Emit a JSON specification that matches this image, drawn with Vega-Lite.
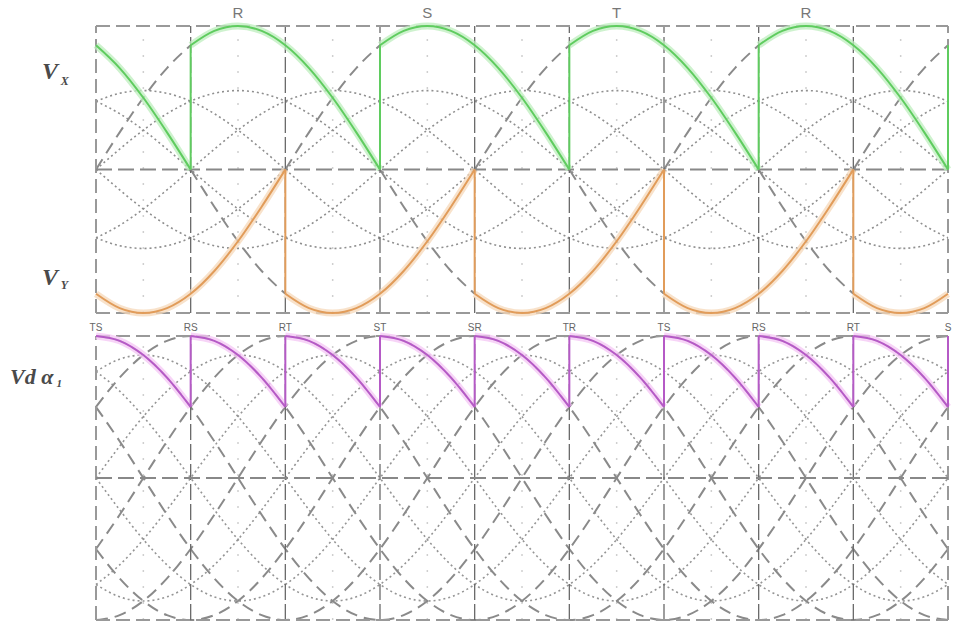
{
"$schema":"https://vega.github.io/schema/vega-lite/v6.json",
"width":852,"height":594,
"padding":{"left":10,"top":5,"right":0,"bottom":0},
"background":"white",
"config":{"view":{"stroke":null}},
"datasets":{
"fam":[
{"x":0,"b0":1,"b1":0.5,"b2":-0.5,"b3":-1,"b4":-0.5,"b5":0.5,"d0":0.75,"d1":0,"d2":-0.75,"d3":-0.75,"d4":0,"d5":0.75,"t0":0.476,"t1":0,"t2":-0.476,"t3":-0.476,"t4":0,"t5":0.476},
{"x":15,"b0":0.966,"b1":0.707,"b2":-0.259,"b3":-0.966,"b4":-0.707,"b5":0.259,"d0":0.837,"d1":0.224,"d2":-0.612,"d3":-0.837,"d4":-0.224,"d5":0.612,"t0":0.531,"t1":0.142,"t2":-0.389,"t3":-0.531,"t4":-0.142,"t5":0.389},
{"x":30,"b0":0.866,"b1":0.866,"b2":0,"b3":-0.866,"b4":-0.866,"b5":0,"d0":0.866,"d1":0.433,"d2":-0.433,"d3":-0.866,"d4":-0.433,"d5":0.433,"t0":0.55,"t1":0.275,"t2":-0.275,"t3":-0.55,"t4":-0.275,"t5":0.275},
{"x":45,"b0":0.707,"b1":0.966,"b2":0.259,"b3":-0.707,"b4":-0.966,"b5":-0.259,"d0":0.837,"d1":0.612,"d2":-0.224,"d3":-0.837,"d4":-0.612,"d5":0.224,"t0":0.531,"t1":0.389,"t2":-0.142,"t3":-0.531,"t4":-0.389,"t5":0.142},
{"x":60,"b0":0.5,"b1":1,"b2":0.5,"b3":-0.5,"b4":-1,"b5":-0.5,"d0":0.75,"d1":0.75,"d2":0,"d3":-0.75,"d4":-0.75,"d5":0,"t0":0.476,"t1":0.476,"t2":0,"t3":-0.476,"t4":-0.476,"t5":0},
{"x":75,"b0":0.259,"b1":0.966,"b2":0.707,"b3":-0.259,"b4":-0.966,"b5":-0.707,"d0":0.612,"d1":0.837,"d2":0.224,"d3":-0.612,"d4":-0.837,"d5":-0.224,"t0":0.389,"t1":0.531,"t2":0.142,"t3":-0.389,"t4":-0.531,"t5":-0.142},
{"x":90,"b0":0,"b1":0.866,"b2":0.866,"b3":0,"b4":-0.866,"b5":-0.866,"d0":0.433,"d1":0.866,"d2":0.433,"d3":-0.433,"d4":-0.866,"d5":-0.433,"t0":0.275,"t1":0.55,"t2":0.275,"t3":-0.275,"t4":-0.55,"t5":-0.275},
{"x":105,"b0":-0.259,"b1":0.707,"b2":0.966,"b3":0.259,"b4":-0.707,"b5":-0.966,"d0":0.224,"d1":0.837,"d2":0.612,"d3":-0.224,"d4":-0.837,"d5":-0.612,"t0":0.142,"t1":0.531,"t2":0.389,"t3":-0.142,"t4":-0.531,"t5":-0.389},
{"x":120,"b0":-0.5,"b1":0.5,"b2":1,"b3":0.5,"b4":-0.5,"b5":-1,"d0":0,"d1":0.75,"d2":0.75,"d3":0,"d4":-0.75,"d5":-0.75,"t0":0,"t1":0.476,"t2":0.476,"t3":0,"t4":-0.476,"t5":-0.476},
{"x":135,"b0":-0.707,"b1":0.259,"b2":0.966,"b3":0.707,"b4":-0.259,"b5":-0.966,"d0":-0.224,"d1":0.612,"d2":0.837,"d3":0.224,"d4":-0.612,"d5":-0.837,"t0":-0.142,"t1":0.389,"t2":0.531,"t3":0.142,"t4":-0.389,"t5":-0.531},
{"x":150,"b0":-0.866,"b1":0,"b2":0.866,"b3":0.866,"b4":0,"b5":-0.866,"d0":-0.433,"d1":0.433,"d2":0.866,"d3":0.433,"d4":-0.433,"d5":-0.866,"t0":-0.275,"t1":0.275,"t2":0.55,"t3":0.275,"t4":-0.275,"t5":-0.55},
{"x":165,"b0":-0.966,"b1":-0.259,"b2":0.707,"b3":0.966,"b4":0.259,"b5":-0.707,"d0":-0.612,"d1":0.224,"d2":0.837,"d3":0.612,"d4":-0.224,"d5":-0.837,"t0":-0.389,"t1":0.142,"t2":0.531,"t3":0.389,"t4":-0.142,"t5":-0.531},
{"x":180,"b0":-1,"b1":-0.5,"b2":0.5,"b3":1,"b4":0.5,"b5":-0.5,"d0":-0.75,"d1":0,"d2":0.75,"d3":0.75,"d4":0,"d5":-0.75,"t0":-0.476,"t1":0,"t2":0.476,"t3":0.476,"t4":0,"t5":-0.476},
{"x":195,"b0":-0.966,"b1":-0.707,"b2":0.259,"b3":0.966,"b4":0.707,"b5":-0.259,"d0":-0.837,"d1":-0.224,"d2":0.612,"d3":0.837,"d4":0.224,"d5":-0.612,"t0":-0.531,"t1":-0.142,"t2":0.389,"t3":0.531,"t4":0.142,"t5":-0.389},
{"x":210,"b0":-0.866,"b1":-0.866,"b2":0,"b3":0.866,"b4":0.866,"b5":0,"d0":-0.866,"d1":-0.433,"d2":0.433,"d3":0.866,"d4":0.433,"d5":-0.433,"t0":-0.55,"t1":-0.275,"t2":0.275,"t3":0.55,"t4":0.275,"t5":-0.275},
{"x":225,"b0":-0.707,"b1":-0.966,"b2":-0.259,"b3":0.707,"b4":0.966,"b5":0.259,"d0":-0.837,"d1":-0.612,"d2":0.224,"d3":0.837,"d4":0.612,"d5":-0.224,"t0":-0.531,"t1":-0.389,"t2":0.142,"t3":0.531,"t4":0.389,"t5":-0.142},
{"x":240,"b0":-0.5,"b1":-1,"b2":-0.5,"b3":0.5,"b4":1,"b5":0.5,"d0":-0.75,"d1":-0.75,"d2":0,"d3":0.75,"d4":0.75,"d5":0,"t0":-0.476,"t1":-0.476,"t2":0,"t3":0.476,"t4":0.476,"t5":0},
{"x":255,"b0":-0.259,"b1":-0.966,"b2":-0.707,"b3":0.259,"b4":0.966,"b5":0.707,"d0":-0.612,"d1":-0.837,"d2":-0.224,"d3":0.612,"d4":0.837,"d5":0.224,"t0":-0.389,"t1":-0.531,"t2":-0.142,"t3":0.389,"t4":0.531,"t5":0.142},
{"x":270,"b0":0,"b1":-0.866,"b2":-0.866,"b3":0,"b4":0.866,"b5":0.866,"d0":-0.433,"d1":-0.866,"d2":-0.433,"d3":0.433,"d4":0.866,"d5":0.433,"t0":-0.275,"t1":-0.55,"t2":-0.275,"t3":0.275,"t4":0.55,"t5":0.275},
{"x":285,"b0":0.259,"b1":-0.707,"b2":-0.966,"b3":-0.259,"b4":0.707,"b5":0.966,"d0":-0.224,"d1":-0.837,"d2":-0.612,"d3":0.224,"d4":0.837,"d5":0.612,"t0":-0.142,"t1":-0.531,"t2":-0.389,"t3":0.142,"t4":0.531,"t5":0.389},
{"x":300,"b0":0.5,"b1":-0.5,"b2":-1,"b3":-0.5,"b4":0.5,"b5":1,"d0":0,"d1":-0.75,"d2":-0.75,"d3":0,"d4":0.75,"d5":0.75,"t0":0,"t1":-0.476,"t2":-0.476,"t3":0,"t4":0.476,"t5":0.476},
{"x":315,"b0":0.707,"b1":-0.259,"b2":-0.966,"b3":-0.707,"b4":0.259,"b5":0.966,"d0":0.224,"d1":-0.612,"d2":-0.837,"d3":-0.224,"d4":0.612,"d5":0.837,"t0":0.142,"t1":-0.389,"t2":-0.531,"t3":-0.142,"t4":0.389,"t5":0.531},
{"x":330,"b0":0.866,"b1":0,"b2":-0.866,"b3":-0.866,"b4":0,"b5":0.866,"d0":0.433,"d1":-0.433,"d2":-0.866,"d3":-0.433,"d4":0.433,"d5":0.866,"t0":0.275,"t1":-0.275,"t2":-0.55,"t3":-0.275,"t4":0.275,"t5":0.55},
{"x":345,"b0":0.966,"b1":0.259,"b2":-0.707,"b3":-0.966,"b4":-0.259,"b5":0.707,"d0":0.612,"d1":-0.224,"d2":-0.837,"d3":-0.612,"d4":0.224,"d5":0.837,"t0":0.389,"t1":-0.142,"t2":-0.531,"t3":-0.389,"t4":0.142,"t5":0.531},
{"x":360,"b0":1,"b1":0.5,"b2":-0.5,"b3":-1,"b4":-0.5,"b5":0.5,"d0":0.75,"d1":0,"d2":-0.75,"d3":-0.75,"d4":0,"d5":0.75,"t0":0.476,"t1":0,"t2":-0.476,"t3":-0.476,"t4":0,"t5":0.476},
{"x":375,"b0":0.966,"b1":0.707,"b2":-0.259,"b3":-0.966,"b4":-0.707,"b5":0.259,"d0":0.837,"d1":0.224,"d2":-0.612,"d3":-0.837,"d4":-0.224,"d5":0.612,"t0":0.531,"t1":0.142,"t2":-0.389,"t3":-0.531,"t4":-0.142,"t5":0.389},
{"x":390,"b0":0.866,"b1":0.866,"b2":0,"b3":-0.866,"b4":-0.866,"b5":0,"d0":0.866,"d1":0.433,"d2":-0.433,"d3":-0.866,"d4":-0.433,"d5":0.433,"t0":0.55,"t1":0.275,"t2":-0.275,"t3":-0.55,"t4":-0.275,"t5":0.275},
{"x":405,"b0":0.707,"b1":0.966,"b2":0.259,"b3":-0.707,"b4":-0.966,"b5":-0.259,"d0":0.837,"d1":0.612,"d2":-0.224,"d3":-0.837,"d4":-0.612,"d5":0.224,"t0":0.531,"t1":0.389,"t2":-0.142,"t3":-0.531,"t4":-0.389,"t5":0.142},
{"x":420,"b0":0.5,"b1":1,"b2":0.5,"b3":-0.5,"b4":-1,"b5":-0.5,"d0":0.75,"d1":0.75,"d2":0,"d3":-0.75,"d4":-0.75,"d5":0,"t0":0.476,"t1":0.476,"t2":0,"t3":-0.476,"t4":-0.476,"t5":0},
{"x":435,"b0":0.259,"b1":0.966,"b2":0.707,"b3":-0.259,"b4":-0.966,"b5":-0.707,"d0":0.612,"d1":0.837,"d2":0.224,"d3":-0.612,"d4":-0.837,"d5":-0.224,"t0":0.389,"t1":0.531,"t2":0.142,"t3":-0.389,"t4":-0.531,"t5":-0.142},
{"x":450,"b0":0,"b1":0.866,"b2":0.866,"b3":0,"b4":-0.866,"b5":-0.866,"d0":0.433,"d1":0.866,"d2":0.433,"d3":-0.433,"d4":-0.866,"d5":-0.433,"t0":0.275,"t1":0.55,"t2":0.275,"t3":-0.275,"t4":-0.55,"t5":-0.275},
{"x":465,"b0":-0.259,"b1":0.707,"b2":0.966,"b3":0.259,"b4":-0.707,"b5":-0.966,"d0":0.224,"d1":0.837,"d2":0.612,"d3":-0.224,"d4":-0.837,"d5":-0.612,"t0":0.142,"t1":0.531,"t2":0.389,"t3":-0.142,"t4":-0.531,"t5":-0.389},
{"x":480,"b0":-0.5,"b1":0.5,"b2":1,"b3":0.5,"b4":-0.5,"b5":-1,"d0":0,"d1":0.75,"d2":0.75,"d3":0,"d4":-0.75,"d5":-0.75,"t0":0,"t1":0.476,"t2":0.476,"t3":0,"t4":-0.476,"t5":-0.476},
{"x":495,"b0":-0.707,"b1":0.259,"b2":0.966,"b3":0.707,"b4":-0.259,"b5":-0.966,"d0":-0.224,"d1":0.612,"d2":0.837,"d3":0.224,"d4":-0.612,"d5":-0.837,"t0":-0.142,"t1":0.389,"t2":0.531,"t3":0.142,"t4":-0.389,"t5":-0.531},
{"x":510,"b0":-0.866,"b1":0,"b2":0.866,"b3":0.866,"b4":0,"b5":-0.866,"d0":-0.433,"d1":0.433,"d2":0.866,"d3":0.433,"d4":-0.433,"d5":-0.866,"t0":-0.275,"t1":0.275,"t2":0.55,"t3":0.275,"t4":-0.275,"t5":-0.55},
{"x":525,"b0":-0.966,"b1":-0.259,"b2":0.707,"b3":0.966,"b4":0.259,"b5":-0.707,"d0":-0.612,"d1":0.224,"d2":0.837,"d3":0.612,"d4":-0.224,"d5":-0.837,"t0":-0.389,"t1":0.142,"t2":0.531,"t3":0.389,"t4":-0.142,"t5":-0.531},
{"x":540,"b0":-1,"b1":-0.5,"b2":0.5,"b3":1,"b4":0.5,"b5":-0.5,"d0":-0.75,"d1":0,"d2":0.75,"d3":0.75,"d4":0,"d5":-0.75,"t0":-0.476,"t1":0,"t2":0.476,"t3":0.476,"t4":0,"t5":-0.476}
],
"gx":[
{"s":0,"x":0,"y":0.866},{"s":0,"x":15,"y":0.707},{"s":0,"x":30,"y":0.5},{"s":0,"x":45,"y":0.259},{"s":0,"x":60,"y":0},
{"s":1,"x":60,"y":0.866},{"s":1,"x":75,"y":0.966},{"s":1,"x":90,"y":1},{"s":1,"x":105,"y":0.966},{"s":1,"x":120,"y":0.866},{"s":1,"x":135,"y":0.707},{"s":1,"x":150,"y":0.5},{"s":1,"x":165,"y":0.259},{"s":1,"x":180,"y":0},
{"s":2,"x":180,"y":0.866},{"s":2,"x":195,"y":0.966},{"s":2,"x":210,"y":1},{"s":2,"x":225,"y":0.966},{"s":2,"x":240,"y":0.866},{"s":2,"x":255,"y":0.707},{"s":2,"x":270,"y":0.5},{"s":2,"x":285,"y":0.259},{"s":2,"x":300,"y":0},
{"s":3,"x":300,"y":0.866},{"s":3,"x":315,"y":0.966},{"s":3,"x":330,"y":1},{"s":3,"x":345,"y":0.966},{"s":3,"x":360,"y":0.866},{"s":3,"x":375,"y":0.707},{"s":3,"x":390,"y":0.5},{"s":3,"x":405,"y":0.259},{"s":3,"x":420,"y":0},
{"s":4,"x":420,"y":0.866},{"s":4,"x":435,"y":0.966},{"s":4,"x":450,"y":1},{"s":4,"x":465,"y":0.966},{"s":4,"x":480,"y":0.866},{"s":4,"x":495,"y":0.707},{"s":4,"x":510,"y":0.5},{"s":4,"x":525,"y":0.259},{"s":4,"x":540,"y":0}
],
"oy":[
{"s":0,"x":0,"y":-0.866},{"s":0,"x":15,"y":-0.966},{"s":0,"x":30,"y":-1},{"s":0,"x":45,"y":-0.966},{"s":0,"x":60,"y":-0.866},{"s":0,"x":75,"y":-0.707},{"s":0,"x":90,"y":-0.5},{"s":0,"x":105,"y":-0.259},{"s":0,"x":120,"y":0},
{"s":1,"x":120,"y":-0.866},{"s":1,"x":135,"y":-0.966},{"s":1,"x":150,"y":-1},{"s":1,"x":165,"y":-0.966},{"s":1,"x":180,"y":-0.866},{"s":1,"x":195,"y":-0.707},{"s":1,"x":210,"y":-0.5},{"s":1,"x":225,"y":-0.259},{"s":1,"x":240,"y":0},
{"s":2,"x":240,"y":-0.866},{"s":2,"x":255,"y":-0.966},{"s":2,"x":270,"y":-1},{"s":2,"x":285,"y":-0.966},{"s":2,"x":300,"y":-0.866},{"s":2,"x":315,"y":-0.707},{"s":2,"x":330,"y":-0.5},{"s":2,"x":345,"y":-0.259},{"s":2,"x":360,"y":0},
{"s":3,"x":360,"y":-0.866},{"s":3,"x":375,"y":-0.966},{"s":3,"x":390,"y":-1},{"s":3,"x":405,"y":-0.966},{"s":3,"x":420,"y":-0.866},{"s":3,"x":435,"y":-0.707},{"s":3,"x":450,"y":-0.5},{"s":3,"x":465,"y":-0.259},{"s":3,"x":480,"y":0},
{"s":4,"x":480,"y":-0.866},{"s":4,"x":495,"y":-0.966},{"s":4,"x":510,"y":-1},{"s":4,"x":525,"y":-0.966},{"s":4,"x":540,"y":-0.866}
],
"vd":[
{"s":0,"x":0,"y":1},{"s":0,"x":15,"y":0.966},{"s":0,"x":30,"y":0.866},{"s":0,"x":45,"y":0.707},{"s":0,"x":60,"y":0.5},
{"s":1,"x":60,"y":1},{"s":1,"x":75,"y":0.966},{"s":1,"x":90,"y":0.866},{"s":1,"x":105,"y":0.707},{"s":1,"x":120,"y":0.5},
{"s":2,"x":120,"y":1},{"s":2,"x":135,"y":0.966},{"s":2,"x":150,"y":0.866},{"s":2,"x":165,"y":0.707},{"s":2,"x":180,"y":0.5},
{"s":3,"x":180,"y":1},{"s":3,"x":195,"y":0.966},{"s":3,"x":210,"y":0.866},{"s":3,"x":225,"y":0.707},{"s":3,"x":240,"y":0.5},
{"s":4,"x":240,"y":1},{"s":4,"x":255,"y":0.966},{"s":4,"x":270,"y":0.866},{"s":4,"x":285,"y":0.707},{"s":4,"x":300,"y":0.5},
{"s":5,"x":300,"y":1},{"s":5,"x":315,"y":0.966},{"s":5,"x":330,"y":0.866},{"s":5,"x":345,"y":0.707},{"s":5,"x":360,"y":0.5},
{"s":6,"x":360,"y":1},{"s":6,"x":375,"y":0.966},{"s":6,"x":390,"y":0.866},{"s":6,"x":405,"y":0.707},{"s":6,"x":420,"y":0.5},
{"s":7,"x":420,"y":1},{"s":7,"x":435,"y":0.966},{"s":7,"x":450,"y":0.866},{"s":7,"x":465,"y":0.707},{"s":7,"x":480,"y":0.5},
{"s":8,"x":480,"y":1},{"s":8,"x":495,"y":0.966},{"s":8,"x":510,"y":0.866},{"s":8,"x":525,"y":0.707},{"s":8,"x":540,"y":0.5}
],
"seg":[
{"s":"r0","x":0,"y":0},{"s":"r0","x":15,"y":0.259},{"s":"r0","x":30,"y":0.5},{"s":"r0","x":45,"y":0.707},{"s":"r0","x":60,"y":0.866},
{"s":"r1","x":120,"y":0},{"s":"r1","x":135,"y":0.259},{"s":"r1","x":150,"y":0.5},{"s":"r1","x":165,"y":0.707},{"s":"r1","x":180,"y":0.866},
{"s":"r2","x":240,"y":0},{"s":"r2","x":255,"y":0.259},{"s":"r2","x":270,"y":0.5},{"s":"r2","x":285,"y":0.707},{"s":"r2","x":300,"y":0.866},
{"s":"r3","x":360,"y":0},{"s":"r3","x":375,"y":0.259},{"s":"r3","x":390,"y":0.5},{"s":"r3","x":405,"y":0.707},{"s":"r3","x":420,"y":0.866},
{"s":"r4","x":480,"y":0},{"s":"r4","x":495,"y":0.259},{"s":"r4","x":510,"y":0.5},{"s":"r4","x":525,"y":0.707},{"s":"r4","x":540,"y":0.866},
{"s":"f0","x":60,"y":0},{"s":"f0","x":75,"y":-0.259},{"s":"f0","x":90,"y":-0.5},{"s":"f0","x":105,"y":-0.707},{"s":"f0","x":120,"y":-0.866},
{"s":"f1","x":180,"y":0},{"s":"f1","x":195,"y":-0.259},{"s":"f1","x":210,"y":-0.5},{"s":"f1","x":225,"y":-0.707},{"s":"f1","x":240,"y":-0.866},
{"s":"f2","x":300,"y":0},{"s":"f2","x":315,"y":-0.259},{"s":"f2","x":330,"y":-0.5},{"s":"f2","x":345,"y":-0.707},{"s":"f2","x":360,"y":-0.866},
{"s":"f3","x":420,"y":0},{"s":"f3","x":435,"y":-0.259},{"s":"f3","x":450,"y":-0.5},{"s":"f3","x":465,"y":-0.707},{"s":"f3","x":480,"y":-0.866}
],
"jx":[{"x":60,"y":0,"y2":0.866},{"x":180,"y":0,"y2":0.866},{"x":300,"y":0,"y2":0.866},{"x":420,"y":0,"y2":0.866},{"x":540,"y":0,"y2":0.866}],
"jy":[{"x":120,"y":0,"y2":-0.866},{"x":240,"y":0,"y2":-0.866},{"x":360,"y":0,"y2":-0.866},{"x":480,"y":0,"y2":-0.866}],
"jd":[{"x":60,"y":0.5,"y2":1},{"x":120,"y":0.5,"y2":1},{"x":180,"y":0.5,"y2":1},{"x":240,"y":0.5,"y2":1},{"x":300,"y":0.5,"y2":1},{"x":360,"y":0.5,"y2":1},{"x":420,"y":0.5,"y2":1},{"x":480,"y":0.5,"y2":1},{"x":540,"y":0.5,"y2":1}],
"mid":[{"x":30},{"x":90},{"x":150},{"x":210},{"x":270},{"x":330},{"x":390},{"x":450},{"x":510}],
"inner":[{"x":60},{"x":120},{"x":180},{"x":240},{"x":300},{"x":360},{"x":420},{"x":480}],
"edge":[{"x":0},{"x":540}],
"hb":[{"y":1},{"y":-1}],
"hc":[{"y":0}]
},
"layer":[
{
"layer":[
{"data":{"name":"mid"},"mark":{"type":"rule","color":"#cfcfcf","strokeWidth":1.5,"strokeDash":[2,14]},
 "encoding":{"x":{"field":"x","type":"quantitative","scale":{"domain":[0,540],"nice":false,"zero":false},"axis":null},"y":{"datum":-1,"type":"quantitative","scale":{"domain":[-3.139,1],"nice":false,"zero":false},"axis":null},"y2":{"datum":1}}},
{"data":{"name":"fam"},"transform":[{"fold":["t0","t1","t2","t3","t4","t5"],"as":["k","y"]}],
 "mark":{"type":"line","interpolate":"monotone","color":"#8f8f8f","strokeWidth":1.6,"strokeDash":[2,3]},
 "encoding":{"x":{"field":"x","type":"quantitative","scale":{"domain":[0,540],"nice":false,"zero":false},"axis":null},"y":{"field":"y","type":"quantitative","scale":{"domain":[-3.139,1],"nice":false,"zero":false},"axis":null},"detail":{"field":"k"}}},
{"data":{"name":"seg"},"mark":{"type":"line","interpolate":"monotone","color":"#8a8a8a","strokeWidth":2,"strokeDash":[12,7]},
 "encoding":{"x":{"field":"x","type":"quantitative","scale":{"domain":[0,540],"nice":false,"zero":false},"axis":null},"y":{"field":"y","type":"quantitative","scale":{"domain":[-3.139,1],"nice":false,"zero":false},"axis":null},"detail":{"field":"s"}}},
{"data":{"name":"inner"},"mark":{"type":"rule","color":"#6a6a6a","strokeWidth":1.3,"strokeDash":[16,4]},
 "encoding":{"x":{"field":"x","type":"quantitative","scale":{"domain":[0,540],"nice":false,"zero":false},"axis":null},"y":{"datum":-1,"type":"quantitative","scale":{"domain":[-3.139,1],"nice":false,"zero":false},"axis":null},"y2":{"datum":1}}},
{"data":{"name":"edge"},"mark":{"type":"rule","color":"#999999","strokeWidth":2,"strokeDash":[14,6]},
 "encoding":{"x":{"field":"x","type":"quantitative","scale":{"domain":[0,540],"nice":false,"zero":false},"axis":null},"y":{"datum":-1,"type":"quantitative","scale":{"domain":[-3.139,1],"nice":false,"zero":false},"axis":null},"y2":{"datum":1}}},
{"data":{"name":"hb"},"mark":{"type":"rule","color":"#999999","strokeWidth":2,"strokeDash":[14,6]},
 "encoding":{"y":{"field":"y","type":"quantitative","scale":{"domain":[-3.139,1],"nice":false,"zero":false},"axis":null},"x":{"datum":0,"type":"quantitative","axis":null},"x2":{"datum":540}}},
{"data":{"name":"hc"},"mark":{"type":"rule","color":"#888888","strokeWidth":2,"strokeDash":[16,6]},
 "encoding":{"y":{"field":"y","type":"quantitative","scale":{"domain":[-3.139,1],"nice":false,"zero":false},"axis":null},"x":{"datum":0,"type":"quantitative","axis":null},"x2":{"datum":540}}},
{"data":{"name":"gx"},"mark":{"type":"line","interpolate":"monotone","color":"#bdeebd","strokeWidth":7,"opacity":0.75},
 "encoding":{"x":{"field":"x","type":"quantitative","scale":{"domain":[0,540],"nice":false,"zero":false},"axis":null},"y":{"field":"y","type":"quantitative","scale":{"domain":[-3.139,1],"nice":false,"zero":false},"axis":null},"detail":{"field":"s"}}},
{"data":{"name":"gx"},"mark":{"type":"line","interpolate":"monotone","color":"#5fcc5f","strokeWidth":2},
 "encoding":{"x":{"field":"x","type":"quantitative","scale":{"domain":[0,540],"nice":false,"zero":false},"axis":null},"y":{"field":"y","type":"quantitative","scale":{"domain":[-3.139,1],"nice":false,"zero":false},"axis":null},"detail":{"field":"s"}}},
{"data":{"name":"jx"},"mark":{"type":"rule","color":"#5fcc5f","strokeWidth":2},
 "encoding":{"x":{"field":"x","type":"quantitative","scale":{"domain":[0,540],"nice":false,"zero":false},"axis":null},"y":{"field":"y","type":"quantitative","scale":{"domain":[-3.139,1],"nice":false,"zero":false},"axis":null},"y2":{"field":"y2"}}},
{"data":{"name":"oy"},"mark":{"type":"line","interpolate":"monotone","color":"#f6d8ba","strokeWidth":7,"opacity":0.75},
 "encoding":{"x":{"field":"x","type":"quantitative","scale":{"domain":[0,540],"nice":false,"zero":false},"axis":null},"y":{"field":"y","type":"quantitative","scale":{"domain":[-3.139,1],"nice":false,"zero":false},"axis":null},"detail":{"field":"s"}}},
{"data":{"name":"oy"},"mark":{"type":"line","interpolate":"monotone","color":"#e19c5a","strokeWidth":2},
 "encoding":{"x":{"field":"x","type":"quantitative","scale":{"domain":[0,540],"nice":false,"zero":false},"axis":null},"y":{"field":"y","type":"quantitative","scale":{"domain":[-3.139,1],"nice":false,"zero":false},"axis":null},"detail":{"field":"s"}}},
{"data":{"name":"jy"},"mark":{"type":"rule","color":"#e19c5a","strokeWidth":2},
 "encoding":{"x":{"field":"x","type":"quantitative","scale":{"domain":[0,540],"nice":false,"zero":false},"axis":null},"y":{"field":"y","type":"quantitative","scale":{"domain":[-3.139,1],"nice":false,"zero":false},"axis":null},"y2":{"field":"y2"}}},
{"data":{"values":[{"x":90,"t":"R"},{"x":210,"t":"S"},{"x":330,"t":"T"},{"x":450,"t":"R"}]},
 "mark":{"type":"text","font":"Liberation Sans","fontSize":15,"color":"#777777","baseline":"middle","align":"center"},
 "encoding":{"x":{"field":"x","type":"quantitative","scale":{"domain":[0,540],"nice":false,"zero":false},"axis":null},"y":{"datum":1.0906,"type":"quantitative","scale":{"domain":[-3.139,1],"nice":false,"zero":false},"axis":null},"text":{"field":"t"}}},
{"data":{"values":[{"x":-34.2,"y":0.676,"t":"V"},{"x":-34.2,"y":-0.756,"t":"V"}]},
 "mark":{"type":"text","font":"Liberation Serif","fontStyle":"italic","fontWeight":"bold","fontSize":24,"color":"#4a4a4a","baseline":"middle","align":"left"},
 "encoding":{"x":{"field":"x","type":"quantitative","scale":{"domain":[0,540],"nice":false,"zero":false},"axis":null},"y":{"field":"y","type":"quantitative","scale":{"domain":[-3.139,1],"nice":false,"zero":false},"axis":null},"text":{"field":"t"}}},
{"data":{"values":[{"x":-22.3,"y":0.62,"t":"X"},{"x":-22.3,"y":-0.805,"t":"Y"}]},
 "mark":{"type":"text","font":"Liberation Serif","fontStyle":"italic","fontWeight":"bold","fontSize":12,"color":"#4a4a4a","baseline":"middle","align":"left"},
 "encoding":{"x":{"field":"x","type":"quantitative","scale":{"domain":[0,540],"nice":false,"zero":false},"axis":null},"y":{"field":"y","type":"quantitative","scale":{"domain":[-3.139,1],"nice":false,"zero":false},"axis":null},"text":{"field":"t"}}}
]
},
{
"layer":[
{"data":{"name":"mid"},"mark":{"type":"rule","color":"#cfcfcf","strokeWidth":1.5,"strokeDash":[2,14]},
 "encoding":{"x":{"field":"x","type":"quantitative","scale":{"domain":[0,540],"nice":false,"zero":false},"axis":null},"y":{"datum":-1,"type":"quantitative","scale":{"domain":[-1,3.183],"nice":false,"zero":false},"axis":null},"y2":{"datum":1}}},
{"data":{"name":"fam"},"transform":[{"fold":["d0","d1","d2","d3","d4","d5"],"as":["k","y"]}],
 "mark":{"type":"line","interpolate":"monotone","color":"#959595","strokeWidth":1.6,"strokeDash":[2,3]},
 "encoding":{"x":{"field":"x","type":"quantitative","scale":{"domain":[0,540],"nice":false,"zero":false},"axis":null},"y":{"field":"y","type":"quantitative","scale":{"domain":[-1,3.183],"nice":false,"zero":false},"axis":null},"detail":{"field":"k"}}},
{"data":{"name":"fam"},"transform":[{"fold":["b0","b1","b2","b3","b4","b5"],"as":["k","y"]}],
 "mark":{"type":"line","interpolate":"monotone","color":"#8a8a8a","strokeWidth":2,"strokeDash":[12,7]},
 "encoding":{"x":{"field":"x","type":"quantitative","scale":{"domain":[0,540],"nice":false,"zero":false},"axis":null},"y":{"field":"y","type":"quantitative","scale":{"domain":[-1,3.183],"nice":false,"zero":false},"axis":null},"detail":{"field":"k"}}},
{"data":{"name":"inner"},"mark":{"type":"rule","color":"#6a6a6a","strokeWidth":1.3,"strokeDash":[16,4]},
 "encoding":{"x":{"field":"x","type":"quantitative","scale":{"domain":[0,540],"nice":false,"zero":false},"axis":null},"y":{"datum":-1,"type":"quantitative","scale":{"domain":[-1,3.183],"nice":false,"zero":false},"axis":null},"y2":{"datum":1}}},
{"data":{"name":"edge"},"mark":{"type":"rule","color":"#999999","strokeWidth":2,"strokeDash":[14,6]},
 "encoding":{"x":{"field":"x","type":"quantitative","scale":{"domain":[0,540],"nice":false,"zero":false},"axis":null},"y":{"datum":-1,"type":"quantitative","scale":{"domain":[-1,3.183],"nice":false,"zero":false},"axis":null},"y2":{"datum":1}}},
{"data":{"name":"hb"},"mark":{"type":"rule","color":"#999999","strokeWidth":2,"strokeDash":[14,6]},
 "encoding":{"y":{"field":"y","type":"quantitative","scale":{"domain":[-1,3.183],"nice":false,"zero":false},"axis":null},"x":{"datum":0,"type":"quantitative","axis":null},"x2":{"datum":540}}},
{"data":{"name":"hc"},"mark":{"type":"rule","color":"#888888","strokeWidth":2,"strokeDash":[16,6]},
 "encoding":{"y":{"field":"y","type":"quantitative","scale":{"domain":[-1,3.183],"nice":false,"zero":false},"axis":null},"x":{"datum":0,"type":"quantitative","axis":null},"x2":{"datum":540}}},
{"data":{"name":"vd"},"mark":{"type":"line","interpolate":"monotone","color":"#f4c6f4","strokeWidth":7,"opacity":0.75},
 "encoding":{"x":{"field":"x","type":"quantitative","scale":{"domain":[0,540],"nice":false,"zero":false},"axis":null},"y":{"field":"y","type":"quantitative","scale":{"domain":[-1,3.183],"nice":false,"zero":false},"axis":null},"detail":{"field":"s"}}},
{"data":{"name":"vd"},"mark":{"type":"line","interpolate":"monotone","color":"#b55ac6","strokeWidth":2},
 "encoding":{"x":{"field":"x","type":"quantitative","scale":{"domain":[0,540],"nice":false,"zero":false},"axis":null},"y":{"field":"y","type":"quantitative","scale":{"domain":[-1,3.183],"nice":false,"zero":false},"axis":null},"detail":{"field":"s"}}},
{"data":{"name":"jd"},"mark":{"type":"rule","color":"#b55ac6","strokeWidth":2},
 "encoding":{"x":{"field":"x","type":"quantitative","scale":{"domain":[0,540],"nice":false,"zero":false},"axis":null},"y":{"field":"y","type":"quantitative","scale":{"domain":[-1,3.183],"nice":false,"zero":false},"axis":null},"y2":{"field":"y2"}}},
{"data":{"values":[{"x":0,"t":"TS"},{"x":60,"t":"RS"},{"x":120,"t":"RT"},{"x":180,"t":"ST"},{"x":240,"t":"SR"},{"x":300,"t":"TR"},{"x":360,"t":"TS"},{"x":420,"t":"RS"},{"x":480,"t":"RT"},{"x":540,"t":"S"}]},
 "mark":{"type":"text","font":"Liberation Sans","fontSize":10,"color":"#666666","baseline":"middle","align":"center"},
 "encoding":{"x":{"field":"x","type":"quantitative","scale":{"domain":[0,540],"nice":false,"zero":false},"axis":null},"y":{"datum":1.056,"type":"quantitative","scale":{"domain":[-1,3.183],"nice":false,"zero":false},"axis":null},"text":{"field":"t"}}},
{"data":{"values":[{"x":-54.5,"y":0.711,"t":"Vd α"}]},
 "mark":{"type":"text","font":"Liberation Serif","fontStyle":"italic","fontWeight":"bold","fontSize":22,"color":"#4a4a4a","baseline":"middle","align":"left"},
 "encoding":{"x":{"field":"x","type":"quantitative","scale":{"domain":[0,540],"nice":false,"zero":false},"axis":null},"y":{"field":"y","type":"quantitative","scale":{"domain":[-1,3.183],"nice":false,"zero":false},"axis":null},"text":{"field":"t"}}},
{"data":{"values":[{"x":-25,"y":0.665,"t":"1"}]},
 "mark":{"type":"text","font":"Liberation Serif","fontStyle":"italic","fontWeight":"bold","fontSize":11,"color":"#4a4a4a","baseline":"middle","align":"left"},
 "encoding":{"x":{"field":"x","type":"quantitative","scale":{"domain":[0,540],"nice":false,"zero":false},"axis":null},"y":{"field":"y","type":"quantitative","scale":{"domain":[-1,3.183],"nice":false,"zero":false},"axis":null},"text":{"field":"t"}}}
]
}
],
"resolve":{"scale":{"y":"independent"}}
}
